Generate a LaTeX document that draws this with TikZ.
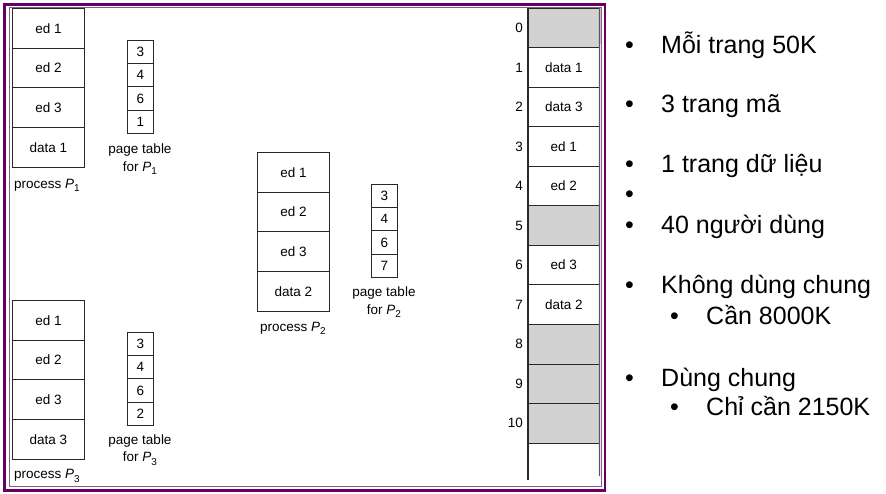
\documentclass[tikz,border=0pt]{standalone}
\usepackage{fontspec}
\setmainfont{Liberation Sans}
\definecolor{frm}{RGB}{102,0,102}
\definecolor{frmin}{RGB}{140,90,140}
\definecolor{ln}{RGB}{40,40,40}
\definecolor{freeg}{RGB}{210,210,210}
\newcommand{\Pn}[1]{{\itshape P}\raisebox{-0.45ex}{\fontsize{10}{10}\selectfont #1}}
\begin{document}
\begin{tikzpicture}[x=1pt,y=-1pt,
  dfont/.style={font=\fontsize{13.5}{16}\selectfont},
  cell/.style={dfont, draw=ln, line width=0.8pt, anchor=north west, minimum width=72pt, minimum height=39.7pt, inner sep=0pt},
  ptcell/.style={dfont, draw=ln, line width=0.8pt, anchor=north west, minimum width=26pt, minimum height=23.2pt, inner sep=0pt},
  memcell/.style={dfont, draw=ln, line width=0.6pt, anchor=north west, minimum width=71pt, minimum height=39.5pt, inner sep=0pt},
  freecell/.style={memcell, fill=freeg},
  lbl/.style={dfont, inner sep=0pt, align=center},
  fnum/.style={dfont, inner sep=0pt, anchor=east},
  blt/.style={anchor=base west, font=\fontsize{25}{30}\selectfont, inner sep=0pt}
]
\useasboundingbox (0,0) rectangle (886,494);
\fill[white] (0,0) rectangle (886,494);

% process P1
\foreach \t [count=\i] in {ed 1, ed 2, ed 3, data 1}
  \node[cell] (pa\i) at (12,{8+39.7*(\i-1)}) {\t};
\node[lbl] (pal) at (47,185) {process \Pn{1}};
\foreach \t [count=\i] in {3,4,6,1}
  \node[ptcell] (ta\i) at (127,{40+23.2*(\i-1)}) {\t};
\node[lbl] (tal) at (140,159) {page table\\[1.5pt]for \Pn{1}};

% process P2
\foreach \t [count=\i] in {ed 1, ed 2, ed 3, data 2}
  \node[cell] (pb\i) at (257,{152+39.7*(\i-1)}) {\t};
\node[lbl] (pbl) at (293,328) {process \Pn{2}};
\foreach \t [count=\i] in {3,4,6,7}
  \node[ptcell] (tb\i) at (371,{184+23.2*(\i-1)}) {\t};
\node[lbl] (tbl) at (384,302) {page table\\[1.5pt]for \Pn{2}};

% process P3
\foreach \t [count=\i] in {ed 1, ed 2, ed 3, data 3}
  \node[cell] (pc\i) at (12,{300+39.7*(\i-1)}) {\t};
\node[lbl] (pcl) at (47,476) {process \Pn{3}};
\foreach \t [count=\i] in {3,4,6,2}
  \node[ptcell] (tc\i) at (127,{332+23.2*(\i-1)}) {\t};
\node[lbl] (tcl) at (140,450) {page table\\[1.5pt]for \Pn{3}};

% physical memory
\node[freecell] (m0) at (528,8) {};
\node[memcell] (m1) at (528,{8+39.5*1}) {data 1};
\node[memcell] (m2) at (528,{8+39.5*2}) {data 3};
\node[memcell] (m3) at (528,{8+39.5*3}) {ed 1};
\node[memcell] (m4) at (528,{8+39.5*4}) {ed 2};
\node[freecell] (m5) at (528,{8+39.5*5}) {};
\node[memcell] (m6) at (528,{8+39.5*6}) {ed 3};
\node[memcell] (m7) at (528,{8+39.5*7}) {data 2};
\node[freecell] (m8) at (528,{8+39.5*8}) {};
\node[freecell] (m9) at (528,{8+39.5*9}) {};
\node[freecell] (m10) at (528,{8+39.5*10}) {};
\foreach \i in {0,...,10}
  \node[fnum] (n\i) at ([xshift=-5pt]m\i.west) {\i};
\coordinate (mlb) at (528,480);
\coordinate (mrb) at (599.5,476);
\draw[ln, line width=1.6pt] (m0.north west) -- (mlb);
\draw[gray!70!black, line width=1.3pt] (m0.north east) -- (mrb);

% frame
\draw[frm, line width=2.6pt] (4.5,4.3) rectangle (605,490.3);
\draw[frmin, line width=1pt] (9.5,7.5) rectangle (601.5,486);

% bullets
\foreach \y/\t in {54/Mỗi trang 50K, 113/3 trang mã, 173/1 trang dữ liệu, 203/, 234/40 người dùng, 294/Không dùng chung, 386/Dùng chung}{
  \node[blt] at (625,\y) {•};
  \node[blt] at (661,\y) {\t};
}
\foreach \y/\t in {324/Cần 8000K, 415/Chỉ cần 2150K}{
  \node[blt] at (670,\y) {•};
  \node[blt] at (706,\y) {\t};
}
\end{tikzpicture}
\end{document}
